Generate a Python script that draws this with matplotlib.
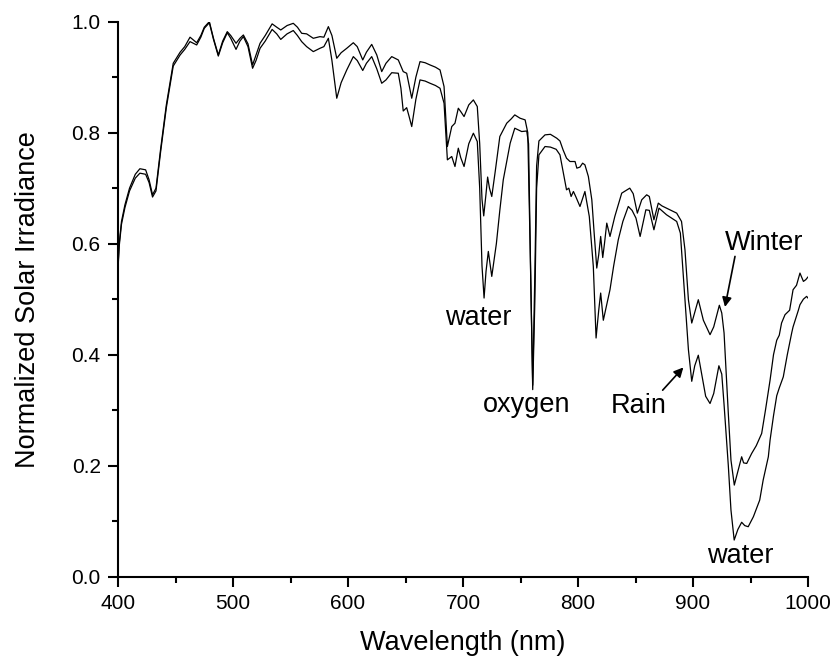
import matplotlib
matplotlib.use("Agg")
import matplotlib.pyplot as plt
from matplotlib.ticker import MultipleLocator

plt.rcParams["font.family"] = ["Liberation Sans", "DejaVu Sans"]

# normalised spectra, winter (clear) and rainy day
wl_winter = [
    400, 401, 403, 406, 410, 415, 419, 424, 427, 430, 433, 437, 442, 448, 454,
    458, 462.6, 468.4, 472, 475, 479.4, 483, 487.2, 491, 495, 498, 502.6, 506,
    509, 513, 517, 520, 523.5, 528, 534, 538, 541.5, 547, 552.4, 556, 559.7,
    564, 569.8, 575.6, 579, 582.9, 586, 590.2, 594, 598.9, 604.6, 608, 612.8,
    616, 620.6, 625, 629.3, 633, 638, 643.7, 648, 651, 655.4, 659, 662.6, 667,
    671.3, 676, 680, 683.5, 686.4, 690.2, 693, 695.9, 698, 700.9, 705, 709,
    712.4, 714.5, 716.5, 718, 720, 721.4, 723, 725, 728, 732, 738, 742, 745,
    749.6, 754, 756.3, 758.3, 760.6, 762.5, 764, 766, 771.3, 776, 781.5, 784.3,
    787, 790, 793, 797.4, 799, 801.7, 804, 806, 809, 812, 814, 816.3, 818,
    819.7, 821.5, 823, 825, 827.8, 832, 838, 845, 848, 851.6, 855.4, 859.7,
    862, 866, 869.8, 873, 877, 881, 885.8, 890, 893, 896, 898.9, 902, 904.6,
    909, 914.8, 918, 922.9, 925, 927, 930.7, 933, 935.9, 939, 942.3, 944,
    946.7, 951, 955, 959.7, 963, 967, 970, 972.8, 975, 977, 980, 984, 987,
    990, 993, 996, 998, 1000,
]
winter = [
    0.56, 0.60, 0.64, 0.67, 0.70, 0.725, 0.735, 0.733, 0.715, 0.688, 0.70,
    0.77, 0.85, 0.925, 0.945, 0.955, 0.972, 0.962, 0.975, 0.99, 1.0, 0.97,
    0.94, 0.965, 0.982, 0.975, 0.961, 0.97, 0.976, 0.96, 0.922, 0.94, 0.961,
    0.975, 0.996, 0.99, 0.985, 0.993, 0.997, 0.99, 0.979, 0.978, 0.970, 0.973,
    0.972, 0.991, 0.975, 0.934, 0.944, 0.952, 0.962, 0.955, 0.931, 0.945,
    0.959, 0.94, 0.910, 0.925, 0.937, 0.931, 0.910, 0.907, 0.862, 0.90, 0.928,
    0.926, 0.922, 0.918, 0.913, 0.883, 0.775, 0.811, 0.817, 0.844, 0.838,
    0.829, 0.85, 0.859, 0.847, 0.78, 0.68, 0.65, 0.69, 0.72, 0.70, 0.685,
    0.73, 0.793, 0.817, 0.825, 0.832, 0.826, 0.823, 0.80, 0.60, 0.345, 0.55,
    0.74, 0.785, 0.796, 0.797, 0.79, 0.785, 0.769, 0.754, 0.748, 0.748, 0.736,
    0.738, 0.745, 0.742, 0.721, 0.679, 0.62, 0.556, 0.58, 0.613, 0.575, 0.60,
    0.637, 0.613, 0.649, 0.691, 0.700, 0.690, 0.655, 0.679, 0.688, 0.685,
    0.643, 0.673, 0.668, 0.664, 0.660, 0.655, 0.640, 0.589, 0.499, 0.457,
    0.48, 0.499, 0.462, 0.436, 0.45, 0.489, 0.475, 0.439, 0.294, 0.21, 0.165,
    0.19, 0.216, 0.205, 0.204, 0.222, 0.236, 0.258, 0.30, 0.354, 0.40, 0.426,
    0.435, 0.457, 0.472, 0.48, 0.517, 0.525, 0.547, 0.532, 0.535, 0.54,
]

wl_rain = [
    400, 401, 403, 406, 410, 415, 419, 424, 427, 430, 433, 437, 442, 448, 454,
    458, 462.6, 468.4, 472, 475, 479.4, 483, 487.2, 491, 495, 498, 502.6, 506,
    509, 513, 517, 520, 523.5, 528, 534, 538, 541.5, 547, 552.4, 556, 559.7,
    564, 569.8, 575.6, 579, 582.9, 586, 590.2, 594, 598.9, 604.6, 608, 612.8,
    616, 620.6, 625, 629.3, 633, 638, 643.7, 646, 648, 651, 653, 655.4, 659,
    662.6, 667, 671.3, 676, 680, 683.5, 686.4, 690.2, 693, 695.9, 698, 700.9,
    705, 709, 712.4, 714.5, 716.5, 718.3, 720, 722, 725, 729, 732, 735, 741,
    745, 751, 755.4, 757, 758.8, 760.6, 762.5, 764, 766, 771.3, 776, 781,
    784.3, 787, 790, 792, 794, 796, 798, 801.7, 806, 809.8, 813.3, 815.7, 818,
    819.7, 822, 825, 827.8, 831, 835, 839, 843.7, 847, 850.4, 854, 859, 862,
    866, 870.4, 877, 885.8, 889, 893, 896, 898.9, 901.5, 904.6, 908, 911,
    914.8, 918, 922.5, 925, 927, 930.7, 933, 935.8, 939, 942.3, 945, 948,
    952.5, 958, 961, 965.5, 967, 970, 972.8, 975, 978.5, 982, 985.8, 987,
    991.6, 993, 996, 998.8, 1000,
]
rain = [
    0.555, 0.595, 0.635, 0.665, 0.695, 0.718, 0.727, 0.725, 0.71, 0.684, 0.695,
    0.765, 0.845, 0.92, 0.94, 0.95, 0.964, 0.958, 0.972, 0.988, 0.998, 0.968,
    0.938, 0.962, 0.98, 0.97, 0.950, 0.965, 0.973, 0.955, 0.916, 0.93, 0.952,
    0.965, 0.986, 0.978, 0.968, 0.978, 0.984, 0.975, 0.964, 0.955, 0.946,
    0.952, 0.955, 0.970, 0.93, 0.862, 0.89, 0.913, 0.937, 0.93, 0.912, 0.925,
    0.937, 0.915, 0.889, 0.895, 0.908, 0.907, 0.88, 0.839, 0.845, 0.83, 0.811,
    0.86, 0.895, 0.893, 0.889, 0.885, 0.880, 0.853, 0.751, 0.757, 0.739,
    0.772, 0.755, 0.739, 0.78, 0.799, 0.784, 0.70, 0.56, 0.502, 0.55, 0.586,
    0.541, 0.60, 0.66, 0.715, 0.781, 0.808, 0.802, 0.803, 0.78, 0.55, 0.337,
    0.50, 0.70, 0.76, 0.775, 0.774, 0.77, 0.760, 0.73, 0.697, 0.70, 0.685,
    0.694, 0.685, 0.667, 0.694, 0.649, 0.559, 0.430, 0.48, 0.511, 0.462, 0.49,
    0.517, 0.56, 0.607, 0.64, 0.667, 0.66, 0.646, 0.613, 0.661, 0.66, 0.625,
    0.664, 0.652, 0.640, 0.619, 0.499, 0.409, 0.352, 0.38, 0.399, 0.36, 0.325,
    0.312, 0.33, 0.38, 0.365, 0.31, 0.2, 0.12, 0.066, 0.085, 0.098, 0.092,
    0.090, 0.108, 0.138, 0.174, 0.216, 0.246, 0.29, 0.326, 0.34, 0.36, 0.40,
    0.439, 0.45, 0.48, 0.49, 0.50, 0.505, 0.502,
]

fig = plt.figure(figsize=(8.33, 6.62), dpi=100)
ax = fig.add_axes([0.1417, 0.1289, 0.8283, 0.8384])

ax.plot(wl_winter, winter, color="black", lw=0.9)
ax.plot(wl_rain, rain, color="black", lw=0.9)

ax.set_xlim(400, 1000)
ax.set_ylim(0, 1.0)
ax.xaxis.set_major_locator(MultipleLocator(100))
ax.xaxis.set_minor_locator(MultipleLocator(50))
ax.yaxis.set_major_locator(MultipleLocator(0.2))
ax.yaxis.set_minor_locator(MultipleLocator(0.1))
ax.yaxis.set_major_formatter(plt.FormatStrFormatter("%.1f"))

for side in ("top", "right"):
    ax.spines[side].set_visible(False)
for side in ("left", "bottom"):
    ax.spines[side].set_linewidth(1.5)
ax.tick_params(which="major", direction="out", length=7.5, width=1.5,
               labelsize=15, pad=5)
ax.tick_params(which="minor", direction="out", length=4, width=1.5)

ax.set_xlabel("Wavelength (nm)", fontsize=19.5, labelpad=12)
ax.set_ylabel("Normalized Solar Irradiance", fontsize=19.5, labelpad=22)

# absorption band labels
ax.text(713, 0.453, "water", fontsize=19.5, ha="center", va="baseline")
ax.text(755, 0.296, "oxygen", fontsize=19.5, ha="center", va="baseline")
ax.text(941, 0.025, "water", fontsize=19.5, ha="center", va="baseline")

# season labels with pointers to their curves
arrow = dict(arrowstyle="-|>", color="black", lw=1.2, mutation_scale=14,
             shrinkA=0, shrinkB=0)
ax.text(852.5, 0.294, "Rain", fontsize=19.5, ha="center", va="baseline")
ax.annotate("", xy=(891.6, 0.377), xytext=(873.6, 0.336), arrowprops=arrow)
ax.text(962, 0.589, "Winter", fontsize=19.5, ha="center", va="baseline")
ax.annotate("", xy=(927.8, 0.486), xytext=(936.5, 0.577), arrowprops=arrow)

fig.savefig("out.png", dpi=100)
